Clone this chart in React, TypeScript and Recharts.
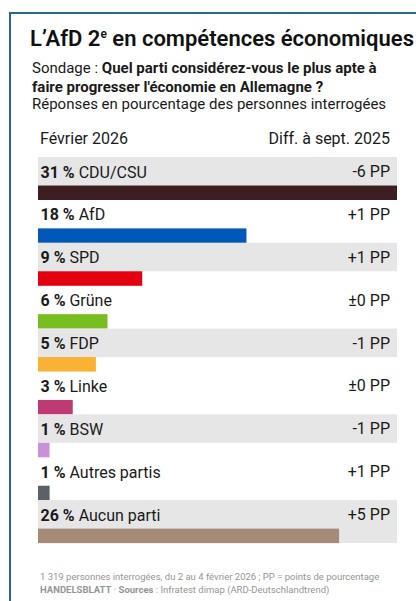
import React from 'react';
import { BarChart, Bar, XAxis, YAxis } from 'recharts';

const parties = ['CDU/CSU', 'AfD', 'SPD', 'Grüne', 'FDP', 'Linke', 'BSW', 'Autres partis', 'Aucun parti'];
const shares = [31, 18, 9, 6, 5, 3, 1, 1, 26];
const diffs = ['-6 PP', '+1 PP', '+1 PP', '±0 PP', '-1 PP', '±0 PP', '-1 PP', '+1 PP', '+5 PP'];
const colors = ['#3d1f21', '#0058b8', '#e3000f', '#78be21', '#f9b234', '#be3a73', '#c892d8', '#5b6169', '#a68b79'];

const data = parties.map((name, i) => ({ name, value: shares[i], diff: diffs[i], color: colors[i] }));

const BAR_H = 14.5;
const FONT = 'Roboto, "Liberation Sans", sans-serif';

function RowShape(props: any) {
  const { x, y, width, height, index, payload, background } = props;
  const left = background?.x ?? 38;
  const full = background?.width ?? 359;
  const last = index === data.length - 1;
  const bandH = last ? height : height - BAR_H;
  return (
    <g>
      {index % 2 === 0 && <rect x={left} y={y} width={full} height={bandH} fill="#e6e6e6" />}
      <rect x={x} y={y + height - BAR_H} width={width} height={BAR_H} fill={payload.color} />
      <text x={left + 2.5} y={y + 20.5} fontSize={16} fill="#1a1a1a" fontFamily={FONT}>
        <tspan fontWeight={700}>{payload.value} %</tspan>
        <tspan> {payload.name}</tspan>
      </text>
      <text x={left + full - 7} y={y + 20} fontSize={16} fill="#1a1a1a" textAnchor="end" fontFamily={FONT}>
        {payload.diff}
      </text>
    </g>
  );
}

const line = { position: 'absolute' as const, left: 32, fontSize: 15, lineHeight: '17px', color: '#1a1a1a', whiteSpace: 'nowrap' as const };

export default function App() {
  return (
    <div
      style={{
        position: 'absolute',
        left: 0,
        top: 0,
        width: 416,
        height: 601,
        overflow: 'hidden',
        background: '#fff',
        fontFamily: FONT,
        color: '#111',
      }}
    >
      <div
        style={{
          position: 'absolute',
          left: 9,
          top: 12,
          width: 500,
          height: 700,
          borderLeft: '2px solid #2b6788',
          borderTop: '2px solid #2b6788',
        }}
      />
      <div style={{ position: 'absolute', left: 30, top: 27, fontSize: 22, fontWeight: 600, lineHeight: '24px', whiteSpace: 'nowrap' }}>
        L’AfD 2<sup style={{ fontSize: 12, lineHeight: 0 }}>e</sup> en compétences économiques
      </div>
      <div style={{ ...line, top: 60 }}>
        Sondage : <b>Quel parti considérez-vous le plus apte à</b>
      </div>
      <div style={{ ...line, top: 79 }}>
        <b>faire progresser l'économie en Allemagne ?</b>
      </div>
      <div style={{ ...line, top: 96 }}>Réponses en pourcentage des personnes interrogées</div>
      <div style={{ position: 'absolute', left: 40, top: 129, fontSize: 16, lineHeight: '20px', color: '#1a1a1a' }}>Février 2026</div>
      <div style={{ position: 'absolute', right: 26, top: 129, fontSize: 16, lineHeight: '20px', color: '#1a1a1a' }}>Diff. à sept. 2025</div>

      <div style={{ position: 'absolute', left: 0, top: 156 }}>
        <BarChart
          width={416}
          height={388}
          data={data}
          layout="vertical"
          barCategoryGap={0}
          margin={{ top: 1, right: 19, bottom: 1, left: 38 }}
        >
          <XAxis
            xAxisId="top"
            orientation="top"
            type="number"
            domain={[0, 31]}
            tick={false}
            height={0}
            axisLine={{ stroke: '#222', strokeWidth: 2 }}
            tickLine={false}
          />
          <XAxis
            type="number"
            domain={[0, 31]}
            tick={false}
            height={0}
            axisLine={{ stroke: '#222', strokeWidth: 2 }}
            tickLine={false}
          />
          <YAxis type="category" dataKey="name" hide />
          <Bar dataKey="value" shape={RowShape} isAnimationActive={false} />
        </BarChart>
      </div>

      <div style={{ position: 'absolute', left: 40, top: 570, fontSize: 9.5, lineHeight: '13px', color: '#959595', whiteSpace: 'nowrap' }}>
        1 319 personnes interrogées, du 2 au 4 février 2026 ; PP = points de pourcentage
        <br />
        <b>HANDELSBLATT</b> · <b>Sources</b> : Infratest dimap (ARD-Deutschlandtrend)
      </div>
    </div>
  );
}
